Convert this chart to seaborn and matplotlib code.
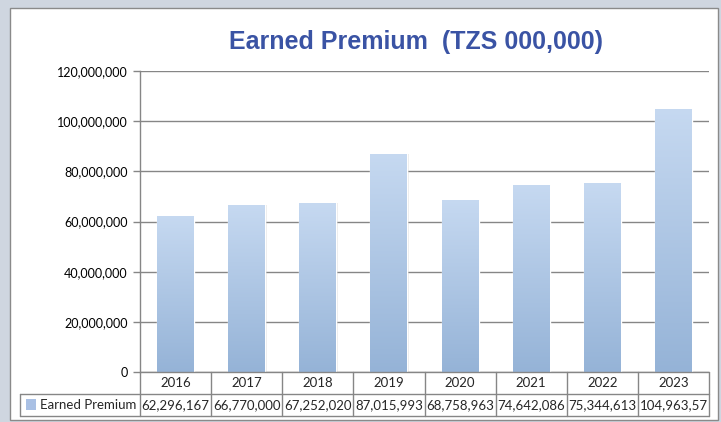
import numpy as np
import pandas as pd
import matplotlib
matplotlib.use("Agg")
import matplotlib.pyplot as plt
import seaborn as sns
from matplotlib.patches import Rectangle
from matplotlib.colors import LinearSegmentedColormap

years = ["2016", "2017", "2018", "2019", "2020", "2021", "2022", "2023"]
premium = [62296167, 66770000, 67252020, 87015993, 68758963, 74642086, 75344613, 104963570]
premium_labels = ["62,296,167", "66,770,000", "67,252,020", "87,015,993",
                  "68,758,963", "74,642,086", "75,344,613", "104,963,57"]
yticks = [0, 20000000, 40000000, 60000000, 80000000, 100000000, 120000000]
series_name = "Earned Premium"
title = "Earned Premium  (TZS 000,000)"

sns.set_theme(style="white")
plt.rcParams['font.family'] = ['Lato', 'DejaVu Sans']

W, H = 721, 422
fig = plt.figure(figsize=(W / 100, H / 100), dpi=100)
fig.patch.set_facecolor("#cfd6e0")

def fx(px):
    return px / W

def fy(py):
    return 1 - py / H

# chart white area
fig.add_artist(Rectangle((fx(10), fy(420)), fx(718) - fx(10), fy(8) - fy(420),
                         transform=fig.transFigure, facecolor="white",
                         edgecolor="#8a8a8a", linewidth=1.0, zorder=0))

left, right, top, bottom = 140, 709, 71, 372
ax = fig.add_axes([fx(left), fy(bottom), fx(right) - fx(left), fy(top) - fy(bottom)])
ax.set_facecolor("none")

df = pd.DataFrame({"year": years, "value": premium})
sns.barplot(data=df, x="year", y="value", ax=ax, color="#aec4e6", width=0.52,
            saturation=1, zorder=3)
ax.set_ylim(0, 120000000)
ax.set_xlim(-0.5, len(years) - 0.5)

# gradient fill for bars
cmap = LinearSegmentedColormap.from_list("g", ["#95b3d7", "#c6d9f1"])
grad = np.linspace(0, 1, 256).reshape(-1, 1)
for p in list(ax.patches):
    x0, y0 = p.get_x(), p.get_y()
    w, h = p.get_width(), p.get_height()
    # soft shadow
    ax.add_patch(Rectangle((x0 + 0.02, y0), w, h, facecolor="#c8c8c8",
                           edgecolor="none", alpha=0.35, zorder=2))
    im = ax.imshow(grad, extent=[x0, x0 + w, y0, y0 + h], origin="lower",
                   cmap=cmap, aspect="auto", zorder=4)
    im.set_clip_path(p)
    p.set_facecolor("none")

ax.set_yticks(yticks)
ax.set_yticklabels([f"{v:,}" if v else "0" for v in yticks], fontsize=9, color="black")
ax.yaxis.grid(True, color="#868686", linewidth=1.0, zorder=1)
ax.xaxis.grid(False)
ax.tick_params(axis="y", which="both", left=True, length=5, width=1, color="#868686", pad=4)
ax.tick_params(axis="x", bottom=False, labelbottom=False)
for s in ["top", "right", "bottom"]:
    ax.spines[s].set_visible(False)
ax.spines["left"].set_color("#868686")
ax.spines["left"].set_linewidth(1.0)
ax.set_xlabel("")
ax.set_ylabel("")

# data table
lc = "#868686"
r1_top, r1_bot, r2_bot = 372, 394, 416
tleft = 20
col_w = (right - left) / len(years)
fig.add_artist(plt.Line2D([fx(left), fx(right)], [fy(r1_top), fy(r1_top)], color=lc, lw=1, transform=fig.transFigure))
fig.add_artist(plt.Line2D([fx(tleft), fx(right)], [fy(r1_bot), fy(r1_bot)], color=lc, lw=1, transform=fig.transFigure))
fig.add_artist(plt.Line2D([fx(tleft), fx(right)], [fy(r2_bot), fy(r2_bot)], color=lc, lw=1, transform=fig.transFigure))
fig.add_artist(plt.Line2D([fx(tleft), fx(tleft)], [fy(r1_bot), fy(r2_bot)], color=lc, lw=1, transform=fig.transFigure))
for i in range(len(years) + 1):
    xp = left + i * col_w
    fig.add_artist(plt.Line2D([fx(xp), fx(xp)], [fy(r1_top), fy(r2_bot)], color=lc, lw=1, transform=fig.transFigure))
for i, (yr, lab) in enumerate(zip(years, premium_labels)):
    cx = left + (i + 0.5) * col_w
    fig.text(fx(cx), fy((r1_top + r1_bot) / 2), yr, ha="center", va="center", fontsize=9.5)
    fig.text(fx(cx), fy((r1_bot + r2_bot) / 2), lab, ha="center", va="center", fontsize=9.5)
# legend key
fig.add_artist(Rectangle((fx(26), fy(410)), fx(10), fy(399) - fy(410), transform=fig.transFigure,
                         facecolor="#a9c0e4", edgecolor="none"))
fig.text(fx(40), fy((r1_bot + r2_bot) / 2), series_name, ha="left", va="center", fontsize=9.5)

fig.text(fx(416), fy(42), title, ha="center", va="center", fontsize=18,
         fontweight="bold", color="#3a53a4", family=["Liberation Sans", "DejaVu Sans"])

fig.savefig("out.png", dpi=100, facecolor=fig.get_facecolor())
